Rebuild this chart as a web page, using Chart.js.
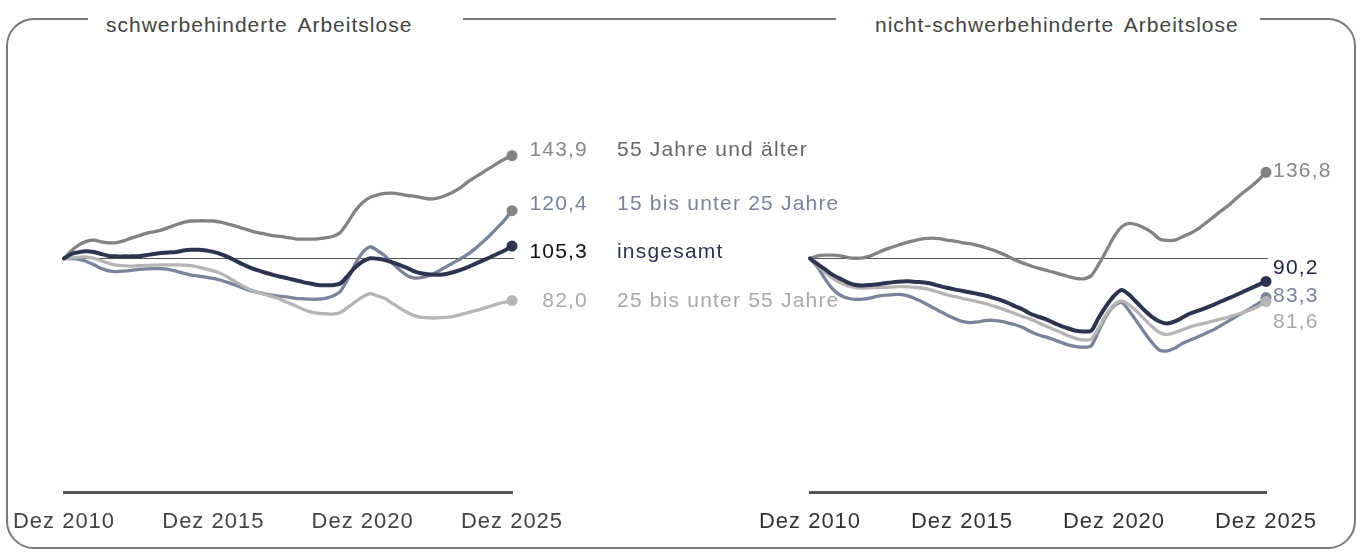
<!DOCTYPE html>
<html lang="de">
<head>
<meta charset="utf-8">
<title>Arbeitslose Index</title>
<script src="https://cdn.jsdelivr.net/npm/chart.js@4.4.1/dist/chart.umd.min.js"></script>
<style>
  html, body { margin: 0; padding: 0; background: #fff; }
  #stage { position: relative; width: 1362px; height: 554px; overflow: hidden; font-family: "Liberation Sans", Arial, sans-serif; }
  #frame { position: absolute; left: 6px; top: 18px; width: 1350px; height: 531px; box-sizing: border-box; border: 2px solid #7a7a7a; border-radius: 28px; }
  .gap { position: absolute; top: 8px; height: 22px; background: #fff; }
  .title { position: absolute; top: 13px; font-size: 21px; line-height: 24px; letter-spacing: 1px; word-spacing: 4px; color: #444; white-space: nowrap; }
  canvas { position: absolute; left: 0; top: 0; }
</style>
</head>
<body>
<div id="stage">
  <div id="frame"></div>
  <div class="gap" style="left:88px;width:375px"></div>
  <div class="gap" style="left:836px;width:424px"></div>
  <div class="title" style="left:106px">schwerbehinderte Arbeitslose</div>
  <div class="title" style="left:875px">nicht-schwerbehinderte Arbeitslose</div>
  <canvas id="chart-left" width="1362" height="554"></canvas>
  <canvas id="chart-right" width="1362" height="554"></canvas>
</div>

<script>
// Quartalswerte, Index Dez 2010 = 100
const quarterMonths = ['Mär', 'Jun', 'Sep', 'Dez'];
const labels = ['Dez 2010'];
for (let y = 2011; y <= 2025; y++) quarterMonths.forEach(m => labels.push(`${m} ${y}`));
const tickLabels = ['Dez 2010', 'Dez 2015', 'Dez 2020', 'Dez 2025'];
const baseline = 100;

// schwerbehinderte Arbeitslose
const sbGesamt = [100, 101.9, 102.7, 103.1, 102.8, 101.9, 101.1, 100.9, 100.9, 100.9, 101, 101.4, 101.9, 102.3, 102.6, 102.8, 103.4, 103.7, 103.7, 103.4, 102.8, 101.9, 100.6, 99, 97.4, 96, 94.9, 93.9, 93, 92.2, 91.5,
  90.7, 89.9, 89.3, 88.7, 88.6, 88.6, 89.3, 92.6, 96.2, 98.7, 100.1, 99.9, 99.3, 98.3, 97.2, 95.9, 94.4, 93.6, 93.2, 93, 93.3, 94, 95, 96.2, 97.6, 99, 100.4, 101.9, 103.4, 105.3];
const sbAlt = [100, 103.3, 105.8, 107.3, 107.8, 107.1, 106.7, 106.8, 107.5, 108.7, 109.7, 110.7, 111.4, 112.1, 113.2, 114.4, 115.4, 116, 116.1, 116.1, 116, 115.5, 114.7, 113.8, 112.8, 111.8, 111, 110.4, 109.8, 109.4, 108.9,
  108.4, 108.3, 108.3, 108.4, 108.8, 109.4, 111.1, 115.4, 120.4, 123.9, 126.1, 127.2, 127.8, 127.9, 127.5, 126.9, 126.5, 125.9, 125.4, 125.8, 126.8, 128.2, 130, 132.5, 134.6, 136.6, 138.6, 140.6, 142.4, 143.9];
const sbMitte = [100, 100.3, 100.6, 100.6, 100.1, 99, 97.9, 97.2, 96.9, 96.7, 96.9, 97, 97.2, 97.3, 97.3, 97.3, 97.2, 96.9, 96.3, 95.6, 94.7, 93.6, 91.9, 90, 88.2, 86.6, 85.5, 84.5, 83.6, 82.5, 81.1,
  79.8, 78.3, 77.2, 76.6, 76.4, 76.2, 76.9, 79.1, 81.5, 83.6, 85, 84, 82.9, 80.8, 78.8, 76.9, 75.5, 74.8, 74.6, 74.6, 74.8, 75.2, 75.9, 76.8, 77.6, 78.5, 79.5, 80.5, 81.3, 82];
const sbJung = [100, 99.9, 99.6, 98.7, 97.3, 95.7, 94.7, 94.4, 94.6, 94.9, 95.3, 95.6, 95.7, 95.7, 95.3, 94.6, 93.7, 92.9, 92.5, 92, 91.5, 90.7, 89.7, 88.6, 87.3, 86.3, 85.5, 84.8, 84.2, 83.8, 83.5,
  83, 82.8, 82.6, 82.6, 83, 84, 85.9, 91.2, 97.6, 102.6, 105, 103.3, 101.1, 97.9, 95, 92.6, 91.6, 91.9, 92.9, 94.3, 96.2, 97.9, 99.7, 101.6, 104, 106.8, 109.7, 113, 116.4, 120.4];

// nicht-schwerbehinderte Arbeitslose
const nsbGesamt = [100, 97.6, 95.3, 93, 91.3, 89.7, 88.7, 88.5, 88.7, 89, 89.5, 89.9, 90.2, 90.3, 90, 89.7, 89.2, 88.3, 87.5, 86.8, 86.2, 85.6, 84.9, 84.2, 83.3, 82.3, 81.1, 79.6, 78.2, 76.4,
  75.2, 74.1, 72.6, 71.2, 70.1, 69.1, 68.8, 69.1, 74.8, 79.8, 84, 86.5, 84.5, 81.2, 77.9, 75.1, 73.1, 72.2, 73.1, 74.8, 76.5, 77.6, 78.8, 80.1, 81.5, 82.9, 84.3, 85.8, 87.3, 88.7, 90.2];
const nsbAlt = [100, 101.1, 101.4, 101.4, 101.1, 100.4, 100.1, 100.3, 101.1, 102.6, 104, 105, 106.1, 107.1, 107.8, 108.5, 108.7, 108.5, 107.8, 107.4, 106.8, 106.3, 105.6, 104.7, 103.7, 102.4, 101, 99.3, 98, 96.9,
  95.9, 95, 94.2, 93.2, 92.3, 91.5, 91.3, 92.6, 97.6, 103.3, 109.3, 113.5, 115, 114.4, 113, 111.1, 108.3, 107.7, 107.8, 109.3, 110.7, 112.5, 115, 117.5, 120.1, 122.5, 125.4, 128.2, 130.6, 133.5, 136.8];
const nsbMitte = [100, 96.9, 94, 91.5, 89.6, 88.3, 87.6, 87.3, 87.5, 87.6, 87.7, 87.9, 88, 87.9, 87.6, 87.2, 86.5, 85.5, 84.5, 83.8, 83, 82.3, 81.6, 80.8, 79.8, 78.8, 77.6, 76.4, 75.2, 74.1,
  72.6, 71.2, 69.8, 68.4, 67, 65.8, 65.2, 65.5, 70.5, 76.2, 80.2, 81.9, 80.2, 77.4, 74.1, 70.9, 68.4, 67.5, 68.4, 69.5, 70.8, 71.7, 72.4, 73.2, 74.1, 74.9, 75.9, 76.9, 78.1, 79.5, 81.6];
const nsbJung = [100, 96.2, 91.2, 86.9, 84.3, 83, 82.5, 82.6, 83.2, 83.9, 84.3, 84.6, 84.6, 83.9, 82.6, 81.1, 79.3, 77.6, 75.9, 74.4, 73.1, 72.6, 72.9, 73.5, 73.6, 73.2, 72.5, 71.7, 70.5, 68.8,
  67.4, 66.5, 65.4, 64.2, 63.1, 62.4, 62.1, 62.7, 69.1, 75.5, 79.8, 81.2, 77.6, 73.1, 68.4, 64.1, 60.8, 60.5, 61.7, 63.7, 65.1, 66.5, 68, 69.4, 71.2, 73.1, 75.1, 76.9, 78.8, 80.8, 83.3];

const seriesNames = ['insgesamt', '55 Jahre und älter', '25 bis unter 55 Jahre', '15 bis unter 25 Jahre'];

const NAVY = '#2c3450';
const GRAY = '#828282';
const LIGHT = '#b5b5b5';
const SLATE = '#7a839b';
const FONT = '"Liberation Sans", Arial, sans-serif';

// horizontal reference line at 100
const baselinePlugin = {
  id: 'baseline',
  beforeDatasetsDraw(chart) {
    const { ctx, chartArea, scales } = chart;
    const y = Math.round(scales.y.getPixelForValue(baseline)) + 0.5;
    ctx.save();
    ctx.strokeStyle = '#555';
    ctx.lineWidth = 1;
    ctx.beginPath();
    ctx.moveTo(chartArea.left, y);
    ctx.lineTo(chartArea.right + 2, y);
    ctx.stroke();
    ctx.restore();
  }
};

// letter spacing for tick labels
const spacingPlugin = {
  id: 'spacing',
  beforeDraw(chart) { chart.ctx.letterSpacing = '1px'; }
};

// value (and name) at the end of each line
const endLabelPlugin = {
  id: 'endLabels',
  afterDatasetsDraw(chart, args, opts) {
    const ctx = chart.ctx;
    ctx.save();
    ctx.font = '21px ' + FONT;
    ctx.letterSpacing = '1.2px';
    ctx.textBaseline = 'middle';
    opts.items.forEach(it => {
      const meta = chart.getDatasetMeta(it.index);
      const pt = meta.data[meta.data.length - 1];
      const ds = chart.data.datasets[it.index];
      const v = ds.data[ds.data.length - 1];
      const y = pt.y + it.dy;
      ctx.fillStyle = it.valueColor;
      ctx.textAlign = opts.valueAlign;
      ctx.fillText(v.toFixed(1).replace('.', ','), pt.x + opts.valueX, y);
      if (opts.showNames) {
        ctx.textAlign = 'left';
        ctx.fillStyle = it.nameColor;
        ctx.fillText(ds.label, pt.x + opts.nameX, y);
      }
    });
    ctx.restore();
  }
};

function makeDataset(label, data, color, width, dotColor) {
  return {
    label: label,
    data: data,
    borderColor: color,
    borderWidth: width,
    backgroundColor: color,
    pointBackgroundColor: dotColor || color,
    pointBorderWidth: 0,
    pointRadius: ctx => ctx.dataIndex === data.length - 1 ? 5.5 : 0,
    pointHoverRadius: 0,
    tension: 0.25,
    borderCapStyle: 'round',
    borderJoinStyle: 'round',
    fill: false,
    clip: false
  };
}

function makeOptions(padding, tickColor, labelOpts) {
  return {
    responsive: false,
    animation: false,
    events: [],
    layout: { padding: padding },
    plugins: {
      legend: { display: false },
      tooltip: { enabled: false },
      endLabels: labelOpts
    },
    scales: {
      x: {
        type: 'category',
        grid: { display: false, drawTicks: false },
        border: { display: true, color: '#555', width: 3 },
        ticks: {
          autoSkip: false,
          maxRotation: 0,
          padding: 16,
          color: tickColor,
          font: { family: FONT, size: 22 },
          callback: (value, index) => tickLabels.includes(labels[index]) ? labels[index] : null
        }
      },
      y: {
        display: false,
        min: 0,
        max: 160
      }
    }
  };
}

new Chart(document.getElementById('chart-left'), {
  type: 'line',
  data: {
    labels: labels,
    datasets: [
      makeDataset(seriesNames[0], sbGesamt, NAVY, 4),
      makeDataset(seriesNames[1], sbAlt, GRAY, 3.3),
      makeDataset(seriesNames[2], sbMitte, LIGHT, 3.3),
      makeDataset(seriesNames[3], sbJung, SLATE, 3.3, '#868686')
    ]
  },
  options: makeOptions({ left: 64, right: 850, top: 118, bottom: 3 }, '#444', {
    valueAlign: 'right', valueX: 76, nameX: 105, showNames: true,
    items: [
      { index: 1, dy: -5, valueColor: '#888', nameColor: '#666' },
      { index: 3, dy: -7, valueColor: '#7a839b', nameColor: '#7a839b' },
      { index: 0, dy: 6, valueColor: '#111', nameColor: NAVY },
      { index: 2, dy: 1, valueColor: '#a8a8a8', nameColor: '#a8a8a8' }
    ]
  }),
  plugins: [spacingPlugin, baselinePlugin, endLabelPlugin]
});

new Chart(document.getElementById('chart-right'), {
  type: 'line',
  data: {
    labels: labels,
    datasets: [
      makeDataset(seriesNames[0], nsbGesamt, NAVY, 4),
      makeDataset(seriesNames[1], nsbAlt, GRAY, 3.3),
      makeDataset(seriesNames[2], nsbMitte, LIGHT, 3.3),
      makeDataset(seriesNames[3], nsbJung, SLATE, 3.3)
    ]
  },
  options: makeOptions({ left: 810, right: 96, top: 118, bottom: 3 }, '#333', {
    valueAlign: 'left', valueX: 7, showNames: false,
    items: [
      { index: 1, dy: -1, valueColor: '#888' },
      { index: 0, dy: -13, valueColor: '#1e2540' },
      { index: 3, dy: -1, valueColor: '#7a839b' },
      { index: 2, dy: 21, valueColor: '#a8a8a8' }
    ]
  }),
  plugins: [spacingPlugin, baselinePlugin, endLabelPlugin]
});
</script>
</body>
</html>
